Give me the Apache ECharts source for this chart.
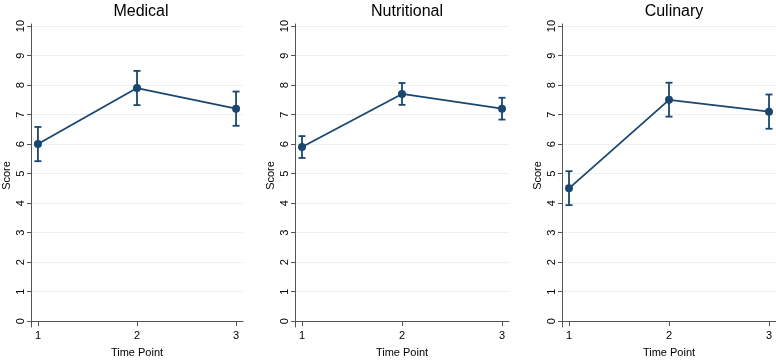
<!DOCTYPE html>
<html>
<head>
<meta charset="utf-8">
<script src="https://cdn.jsdelivr.net/npm/echarts@6/dist/echarts.min.js"></script>
<style>
  html, body { margin: 0; padding: 0; background: #fff; }
  #chart { width: 776px; height: 363px; }
</style>
</head>
<body>
<div id="chart"></div>
<script>
// data
var panelTitles = ['Medical', 'Nutritional', 'Culinary'];
var timePoints = [1, 2, 3];
var yTicks = [0, 1, 2, 3, 4, 5, 6, 7, 8, 9, 10];

var medicalMean = [6.0, 7.9, 7.2];
var medicalLow = [5.42, 7.32, 6.62];
var medicalHigh = [6.58, 8.48, 7.78];

var nutritionalMean = [5.9, 7.7, 7.2];
var nutritionalLow = [5.53, 7.33, 6.83];
var nutritionalHigh = [6.27, 8.07, 7.57];

var culinaryMean = [4.5, 7.5, 7.1];
var culinaryLow = [3.93, 6.93, 6.52];
var culinaryHigh = [5.08, 8.08, 7.68];

var means = [medicalMean, nutritionalMean, culinaryMean];
var lows = [medicalLow, nutritionalLow, culinaryLow];
var highs = [medicalHigh, nutritionalHigh, culinaryHigh];

var navy = '#1a476f';
var axisGray = '#555555';
var font = '"Liberation Sans", Arial, Helvetica, sans-serif';

var gridLefts = [29, 295, 562];
var gridWidth = 214;

var chart = echarts.init(document.getElementById('chart'));

var grids = [], xAxes = [], yAxes = [], titles = [], series = [];

for (var p = 0; p < 3; p++) {
  grids.push({ left: gridLefts[p], width: gridWidth, top: 24, height: 313 });
  titles.push({
    text: panelTitles[p],
    left: gridLefts[p] + gridWidth / 2,
    textAlign: 'center',
    top: -1,
    textStyle: { fontFamily: font, fontSize: 16, fontWeight: 'normal', color: '#000' }
  });
  xAxes.push({
    gridIndex: p,
    type: 'value',
    min: 0.93,
    max: 3.07,
    name: 'Time Point',
    nameLocation: 'middle',
    nameGap: 20,
    nameTextStyle: { fontFamily: font, fontSize: 11, color: '#000' },
    axisLine: { show: true, lineStyle: { color: axisGray, width: 1 } },
    axisTick: { show: true, length: 5, customValues: timePoints, lineStyle: { color: axisGray } },
    axisLabel: { customValues: timePoints, margin: 3, fontFamily: font, fontSize: 11, color: '#000' },
    splitLine: { show: false }
  });
  yAxes.push({
    gridIndex: p,
    type: 'value',
    min: -0.2,
    max: 10.07,
    name: 'Score',
    nameLocation: 'middle',
    nameGap: 19,
    nameTextStyle: { fontFamily: font, fontSize: 11, color: '#000' },
    axisLine: { show: true, lineStyle: { color: axisGray, width: 1 } },
    axisTick: { show: true, length: 4, customValues: yTicks, lineStyle: { color: axisGray } },
    axisLabel: { customValues: yTicks, rotate: 90, margin: 5, fontFamily: font, fontSize: 11, color: '#000' },
    splitLine: { show: true, lineStyle: { color: '#e8f0f0', width: 1 } }
  });

  var pts = [], bars = [];
  for (var i = 0; i < timePoints.length; i++) {
    pts.push([timePoints[i], means[p][i]]);
    bars.push([timePoints[i], lows[p][i], highs[p][i]]);
  }

  // error bars with caps
  series.push({
    type: 'custom',
    xAxisIndex: p,
    yAxisIndex: p,
    data: bars,
    z: 3,
    renderItem: function (params, api) {
      var x = api.value(0);
      var lo = api.coord([x, api.value(1)]);
      var hi = api.coord([x, api.value(2)]);
      var w = 3.5;
      var style = { stroke: navy, lineWidth: 1.8 };
      return {
        type: 'group',
        children: [
          { type: 'line', shape: { x1: lo[0], y1: lo[1], x2: hi[0], y2: hi[1] }, style: style },
          { type: 'line', shape: { x1: hi[0] - w, y1: hi[1], x2: hi[0] + w, y2: hi[1] }, style: style },
          { type: 'line', shape: { x1: lo[0] - w, y1: lo[1], x2: lo[0] + w, y2: lo[1] }, style: style }
        ]
      };
    }
  });
  series.push({
    type: 'line',
    xAxisIndex: p,
    yAxisIndex: p,
    data: pts,
    z: 4,
    symbol: 'circle',
    symbolSize: 8,
    lineStyle: { color: navy, width: 1.8 },
    itemStyle: { color: navy }
  });
}

chart.setOption({
  animation: false,
  title: titles,
  grid: grids,
  xAxis: xAxes,
  yAxis: yAxes,
  series: series
});
</script>
</body>
</html>
